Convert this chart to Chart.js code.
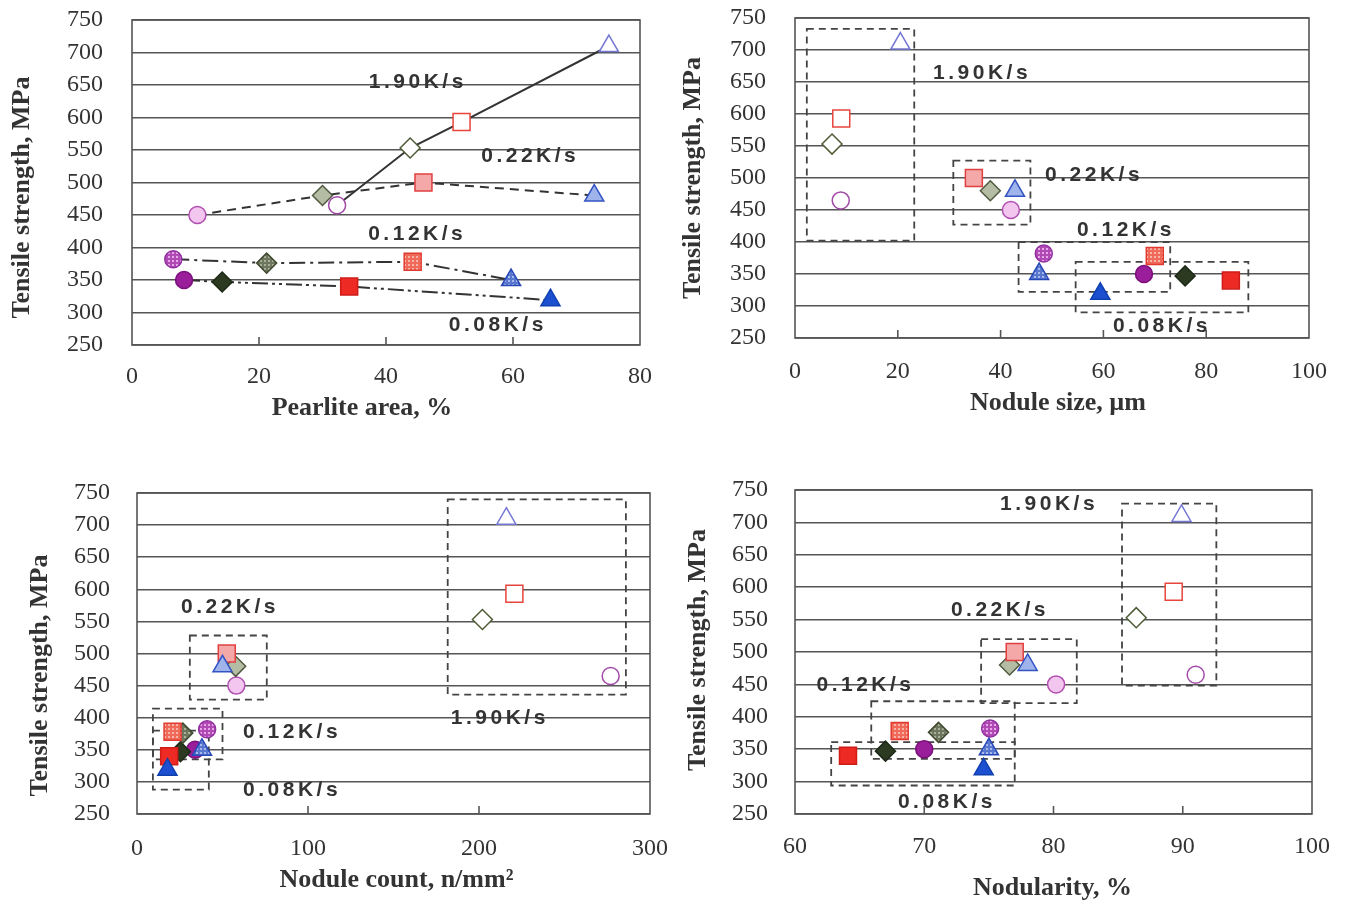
<!DOCTYPE html>
<html>
<head>
<meta charset="utf-8">
<script src="https://cdn.jsdelivr.net/npm/chart.js@4.4.1/dist/chart.umd.min.js"></script>
<style>
html, body { margin: 0; padding: 0; background: #fff; }
body { width: 1349px; height: 906px; position: relative; overflow: hidden; }
canvas { position: absolute; }
</style>
</head>
<body>
<canvas id="c1" width="660" height="430" style="left:0;top:0"></canvas>
<canvas id="c2" width="660" height="430" style="left:670px;top:0"></canvas>
<canvas id="c3" width="670" height="440" style="left:0;top:460px"></canvas>
<canvas id="c4" width="670" height="446" style="left:670px;top:460px"></canvas>
<script>
// cooling rates
var rates = ['1.90K/s', '0.22K/s', '0.12K/s', '0.08K/s'];

// every array below is ordered: circle, diamond, square, triangle
var tensile190 = [465, 553, 593, 710];
var tensile022 = [450, 480, 500, 480];
var tensile012 = [382, 376, 378, 350];
var tensile008 = [350, 347, 340, 319];

// pearlite area, %
var pearlite190 = [32.3, 43.8, 51.9, 75.1];
var pearlite022 = [10.3, 30.0, 45.9, 72.8];
var pearlite012 = [6.5, 21.2, 44.2, 59.7];
var pearlite008 = [8.2, 14.2, 34.2, 65.9];

// nodule size, um
var size190 = [8.9, 7.2, 9.0, 20.5];
var size022 = [42.0, 38.0, 34.8, 42.8];
var size012 = [48.4, null, 70.0, 47.5];
var size008 = [67.9, 75.9, 84.8, 59.4];

// nodule count, n/mm2
var count190 = [277, 202, 220.7, 216];
var count022 = [58.1, 57.7, 52.5, 50];
var count012 = [41, 26.8, 20.8, 38];
var count008 = [34, 25.4, 18.8, 17.8];

// nodularity, %
var nodularity190 = [91.0, 86.4, 89.3, 89.9];
var nodularity022 = [80.2, 76.6, 77.0, 78.0];
var nodularity012 = [75.1, 71.1, 68.1, 75.0];
var nodularity008 = [70.0, 67.0, 64.1, 74.6];

var serif = '"Liberation Serif", "Times New Roman", serif';
var tickFont = { family: serif, size: 24 };

function dots(base, dot) {
    var c = document.createElement('canvas');
    c.width = 4; c.height = 4;
    var g = c.getContext('2d');
    g.fillStyle = base; g.fillRect(0, 0, 4, 4);
    g.fillStyle = dot; g.fillRect(0, 0, 2, 2);
    return g.createPattern(c, 'repeat');
}

var shapes = ['circle', 'rectRot', 'rect', 'triangle'];
var radii = [8.5, 10, 12, 11];
var looks = [
    { fill: ['#ffffff', '#ffffff', '#ffffff', '#ffffff'], edge: ['#a24aa8', '#4e5c36', '#e8453e', '#7478d4'] },
    { fill: ['#f2c6ee', '#b4bca4', '#f4a8a8', '#a0b4ec'], edge: ['#b050b0', '#505a40', '#e04040', '#3454c4'] },
    { fill: [dots('#b24ab6', '#e6a8e6'), dots('#6e7660', '#a8b098'), dots('#f06a5a', '#f8b4aa'), dots('#5878d0', '#a8b8ec')],
      edge: ['#9030a0', '#404a30', '#e03a30', '#2848b8'] },
    { fill: ['#9a1e9a', '#2c3a22', '#ee2a24', '#1c50d0'], edge: ['#7a107a', '#1e2a18', '#d01c18', '#1040b0'] }
];
var dashes = [[], [9, 6], [16, 5, 3, 5], [16, 4, 3, 4, 3, 4]];

function pts(xs, ys) {
    return xs.map(function (x, i) { return { x: x, y: ys[i] }; });
}

function sets(xLists, withLines) {
    var ys = [tensile190, tensile022, tensile012, tensile008];
    return xLists.map(function (xs, k) {
        return {
            label: rates[k],
            data: pts(xs, ys[k]),
            showLine: !!withLines,
            borderColor: '#333',
            borderWidth: 2,
            borderDash: dashes[k],
            pointStyle: shapes,
            pointRadius: radii,
            pointHoverRadius: radii,
            pointBackgroundColor: looks[k].fill,
            pointBorderColor: looks[k].edge,
            pointBorderWidth: 1.5
        };
    });
}

// dashed groups, K/s labels, frame, inner ticks and axis titles
var marks = {
    id: 'marks',
    beforeDatasetsDraw: function (chart, args, opts) {
        var ctx = chart.ctx, xs = chart.scales.x, ys = chart.scales.y;
        ctx.save();
        ctx.strokeStyle = '#444';
        ctx.lineWidth = 1.8;
        ctx.setLineDash([7, 5]);
        (opts.boxes || []).forEach(function (b) {
            var x0 = xs.getPixelForValue(b[0]), x1 = xs.getPixelForValue(b[1]);
            var y0 = ys.getPixelForValue(b[3]), y1 = ys.getPixelForValue(b[2]);
            ctx.strokeRect(x0, y0, x1 - x0, y1 - y0);
        });
        ctx.restore();
    },
    afterDraw: function (chart, args, opts) {
        var ctx = chart.ctx, a = chart.chartArea, xs = chart.scales.x, ys = chart.scales.y;
        ctx.save();
        ctx.strokeStyle = '#555';
        ctx.lineWidth = 1.6;
        ctx.strokeRect(a.left, a.top, a.right - a.left, a.bottom - a.top);
        xs.ticks.forEach(function (t, i) {
            if (i === 0 || i === xs.ticks.length - 1) return;
            var px = xs.getPixelForValue(t.value);
            ctx.beginPath();
            ctx.moveTo(px, a.bottom);
            ctx.lineTo(px, a.bottom - 8);
            ctx.stroke();
        });

        ctx.fillStyle = '#333';
        ctx.textAlign = 'center';
        ctx.textBaseline = 'middle';
        ctx.font = 'bold 26px ' + serif;
        var t = opts.titles;
        ctx.fillText(t.x, (a.left + a.right) / 2 + t.xdx, a.bottom + t.xdy);
        ctx.save();
        ctx.translate(a.left + t.ydx, (a.top + a.bottom) / 2 + t.ydy);
        ctx.rotate(-Math.PI / 2);
        ctx.fillText('Tensile strength, MPa', 0, 0);
        ctx.restore();

        ctx.font = 'bold 21px "Liberation Sans", Arial, sans-serif';
        ctx.letterSpacing = '3.5px';
        (opts.labels || []).forEach(function (l) {
            ctx.fillText(l[0], xs.getPixelForValue(l[1]) + 2, ys.getPixelForValue(l[2]));
        });
        ctx.restore();
    }
};

function make(id, xLists, withLines, x, o) {
    var clear = 'rgba(0,0,0,0)';
    return new Chart(document.getElementById(id), {
        type: 'scatter',
        data: { datasets: sets(xLists, withLines) },
        plugins: [marks],
        options: {
            responsive: false,
            animation: false,
            layout: { padding: { top: o.top, right: o.right, left: 0, bottom: 0 } },
            plugins: {
                legend: { display: false },
                tooltip: { enabled: false },
                marks: { boxes: o.boxes, labels: o.labels, titles: o.titles }
            },
            scales: {
                x: {
                    type: 'linear', min: x.min, max: x.max,
                    ticks: { stepSize: x.step, padding: 2, autoSkip: false, maxRotation: 0, color: '#333', font: tickFont },
                    grid: { drawOnChartArea: false, drawTicks: true, tickLength: o.xTick, tickColor: clear },
                    border: { display: false },
                    afterFit: function (s) { s.height = o.xH; }
                },
                y: {
                    type: 'linear', min: 250, max: 750,
                    ticks: { stepSize: 50, padding: 2, autoSkip: false, color: '#333', font: tickFont },
                    grid: { color: '#555', lineWidth: 1.6, drawTicks: true, tickLength: o.yTick, tickColor: clear },
                    border: { display: false },
                    afterFit: function (s) { s.width = o.yW; }
                }
            }
        }
    });
}

make('c1', [pearlite190, pearlite022, pearlite012, pearlite008], true,
    { min: 0, max: 80, step: 20 },
    { top: 20, right: 20, yW: 132, xH: 85, xTick: 15, yTick: 27,
      titles: { x: 'Pearlite area, %', xdx: -24, xdy: 63, ydx: -110, ydy: 15 },
      boxes: [],
      labels: [[rates[0], 44.7, 655], [rates[1], 62.4, 541], [rates[2], 44.6, 420], [rates[3], 57.3, 280]] });

make('c2', [size190, size022, size012, size008], false,
    { min: 0, max: 100, step: 20 },
    { top: 18, right: 21, yW: 125, xH: 92, xTick: 17, yTick: 27,
      titles: { x: 'Nodule size, \u00b5m', xdx: 6, xdy: 65, ydx: -102, ydy: 0 },
      boxes: [[2.3, 23.2, 402, 733], [30.8, 45.8, 427, 527], [43.5, 73, 322, 400], [54.6, 88.2, 290, 369]],
      labels: [[rates[0], 36, 664], [rates[1], 57.8, 505], [rates[2], 64, 419], [rates[3], 71, 269]] });

make('c3', [count190, count022, count012, count008], false,
    { min: 0, max: 300, step: 100 },
    { top: 33, right: 20, yW: 137, xH: 86, xTick: 18, yTick: 25,
      titles: { x: 'Nodule count, n/mm\u00b2', xdx: 3, xdy: 66, ydx: -97, ydy: 22 },
      boxes: [[181.7, 285.9, 436, 740], [30.9, 75.9, 428, 528], [9.3, 50, 335, 414], [9.3, 42, 288, 380]],
      labels: [[rates[1], 53.2, 572], [rates[2], 89.5, 378], [rates[3], 89.5, 287], [rates[0], 211, 399]] });

make('c4', [nodularity190, nodularity022, nodularity012, nodularity008], false,
    { min: 60, max: 100, step: 10 },
    { top: 30, right: 28, yW: 125, xH: 92, xTick: 16, yTick: 25,
      titles: { x: 'Nodularity, %', xdx: -1, xdy: 74, ydx: -97, ydy: -2 },
      boxes: [[85.3, 92.6, 448, 729], [74.4, 81.8, 421, 520], [65.9, 77.0, 335, 424], [62.8, 77.0, 294, 361]],
      labels: [[rates[0], 79.5, 728], [rates[1], 75.7, 565], [rates[2], 65.3, 449], [rates[3], 71.6, 268]] });
</script>
</body>
</html>
